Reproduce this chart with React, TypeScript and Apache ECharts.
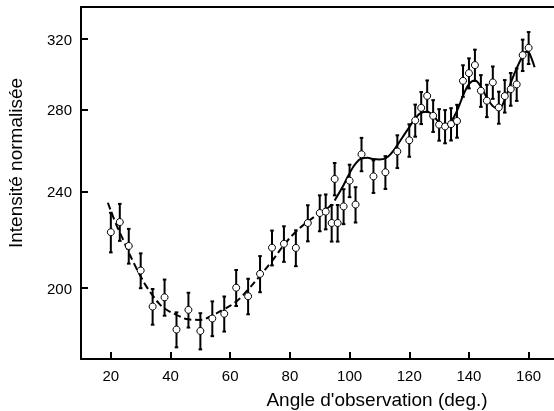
import React, { useEffect, useRef } from "react";
import * as echarts from "echarts";

// Observation angles (deg.)
const angles = [
  20, 23, 26, 30, 34, 38, 42, 46, 50, 54, 58, 62, 66, 70, 74, 78, 82, 86, 90,
  92, 94, 95, 96, 98, 100, 102, 104, 108, 112, 116, 120, 122, 124, 126, 128,
  130, 132, 134, 136, 138, 140, 142, 144, 146, 148, 150, 152, 154, 156, 158, 160,
];
// Normalised intensity
const intensities = [
  222.3, 226.6, 216.6, 206.8, 193.2, 196.6, 185.0, 192.0, 184.5, 188.9, 190.6,
  200.2, 197.0, 205.5, 215.9, 217.5, 215.8, 226.2, 230.5, 231.1, 226.2, 245.8,
  226.2, 233.4, 245.0, 234.2, 257.5, 247.0, 248.9, 258.9, 264.4, 274.5, 281.1,
  287.5, 276.9, 272.3, 271.4, 272.6, 274.2, 295.8, 300.1, 304.7, 290.3, 284.9,
  294.9, 281.3, 287.4, 291.2, 293.8, 310.5, 314.8,
];
// Error (half-length of bars)
const errors = [
  8.3, 7.9, 7.1, 6.8, 6.5, 6.7, 6.1, 6.3, 6.3, 6.2, 6.3, 6.8, 6.6, 7.0, 7.1,
  7.3, 7.3, 7.7, 7.8, 7.6, 7.8, 7.5, 7.8, 7.7, 7.5, 7.8, 8.1, 7.6, 7.7, 8.0,
  8.1, 8.3, 8.5, 8.5, 8.3, 8.1, 8.5, 8.3, 8.5, 8.8, 8.5, 9.0, 8.7, 8.7, 9.0,
  8.5, 8.8, 9.0, 9.0, 9.2, 9.5,
];
// Dashed fit curve
const dashX = [
  19, 20, 22, 24, 26, 28, 30, 32, 34, 36, 38, 42, 46, 50, 54, 58, 62, 66, 70,
  74, 78, 82, 86, 90, 93, 95,
];
const dashY = [
  235, 231.5, 225, 219.5, 214, 209, 204.5, 200.5, 197.3, 194.5, 192.5, 190.2,
  188.6, 188.4, 190, 192.3, 195, 199.5, 204.8, 210.5, 217, 222.5, 226.8, 230.4,
  233, 235.5,
];
// Solid fit curve
const solidX = [
  95, 98, 100, 102, 104, 106, 108, 110, 112, 114, 116, 118, 120, 122, 124, 126,
  128, 130, 132, 134, 136, 138, 140, 142, 144, 146, 148, 150, 152, 154, 156,
  158, 159, 160, 161, 162,
];
const solidY = [
  236, 243, 248.5, 253, 255.5, 255.8, 255.2, 255, 255.5, 258, 262, 266.5, 271,
  275.5, 278.5, 279, 277, 273.5, 272, 274, 279.5, 287.5, 294, 296, 292.5, 286.5,
  282, 280.5, 285.5, 294.5, 303, 310, 312.4, 312, 308.5, 303.5,
];
const xTicks = [20, 40, 60, 80, 100, 120, 140, 160];
const yTicks = [200, 240, 280, 320];

const lg = (v: number) => Math.log10(v);

export default function App() {
  const ref = useRef<HTMLDivElement>(null);
  useEffect(() => {
    document.body.style.margin = "0";
    const chart = echarts.init(ref.current!, null, { renderer: "svg" });
    const font = '"Liberation Sans", Arial, Helvetica, sans-serif';
    const axisLineStyle = { color: "#000", width: 2 };
    chart.setOption({
      animation: false,
      grid: { left: 81, right: 0, top: 7, bottom: 52 },
      xAxis: [
        {
          type: "value",
          min: 10,
          max: 168.5,
          position: "bottom",
          axisLine: { show: true, onZero: false, lineStyle: axisLineStyle },
          axisTick: {
            show: true,
            inside: true,
            length: 7,
            customValues: xTicks,
            lineStyle: { color: "#000", width: 2 },
          },
          axisLabel: {
            customValues: xTicks,
            color: "#000",
            fontSize: 15,
            fontFamily: font,
            margin: 9,
          },
          splitLine: { show: false },
        },
        {
          type: "value",
          min: 10,
          max: 168.5,
          position: "top",
          axisLine: { show: true, onZero: false, lineStyle: axisLineStyle },
          axisTick: { show: false },
          axisLabel: { show: false },
          splitLine: { show: false },
        },
      ],
      yAxis: {
        type: "value",
        min: lg(175),
        max: lg(340),
        axisLine: { show: true, onZero: false, lineStyle: axisLineStyle },
        axisTick: {
          show: true,
          inside: true,
          length: 7,
          customValues: yTicks.map(lg),
          lineStyle: { color: "#000", width: 2 },
        },
        axisLabel: {
          customValues: yTicks.map(lg),
          color: "#000",
          fontSize: 15,
          fontFamily: font,
          margin: 9,
          formatter: (v: number) => String(Math.round(Math.pow(10, v))),
        },
        splitLine: { show: false },
      },
      graphic: [
        {
          type: "text",
          x: 15,
          y: 163,
          rotation: Math.PI / 2,
          style: {
            text: "Intensité normalisée",
            fontSize: 19,
            fontFamily: font,
            fill: "#000",
            textAlign: "center",
            textVerticalAlign: "middle",
          },
        },
        {
          type: "text",
          x: 377,
          y: 399,
          style: {
            text: "Angle d'observation (deg.)",
            fontSize: 19,
            fontFamily: font,
            fill: "#000",
            textAlign: "center",
            textVerticalAlign: "middle",
          },
        },
      ],
      series: [
        {
          type: "custom",
          xAxisIndex: 0,
          data: angles.map((a, i) => [
            a,
            lg(intensities[i] - errors[i]),
            lg(intensities[i] + errors[i]),
          ]),
          encode: { x: 0, y: [1, 2] },
          z: 2,
          renderItem: (params: any, api: any) => {
            const x = api.value(0);
            const p1 = api.coord([x, api.value(1)]);
            const p2 = api.coord([x, api.value(2)]);
            const style = { stroke: "#000", lineWidth: 2 };
            return {
              type: "group",
              children: [
                { type: "line", shape: { x1: p1[0], y1: p1[1], x2: p2[0], y2: p2[1] }, style },
                { type: "line", shape: { x1: p1[0] - 1.8, y1: p1[1], x2: p1[0] + 1.8, y2: p1[1] }, style },
                { type: "line", shape: { x1: p2[0] - 1.8, y1: p2[1], x2: p2[0] + 1.8, y2: p2[1] }, style },
              ],
            };
          },
        },
        {
          type: "line",
          xAxisIndex: 0,
          data: dashX.map((x, i) => [x, lg(dashY[i])]),
          showSymbol: false,
          smooth: 0.4,
          z: 3,
          lineStyle: { color: "#000", width: 2, type: [7, 4] },
        },
        {
          type: "line",
          xAxisIndex: 0,
          data: solidX.map((x, i) => [x, lg(solidY[i])]),
          showSymbol: false,
          smooth: 0.4,
          z: 3,
          lineStyle: { color: "#000", width: 2 },
        },
        {
          type: "scatter",
          xAxisIndex: 0,
          data: angles.map((a, i) => [a, lg(intensities[i])]),
          symbol: "circle",
          symbolSize: 7,
          z: 5,
          itemStyle: { color: "#fff", borderColor: "#000", borderWidth: 1, opacity: 1 },
        },
      ],
    });
    return () => chart.dispose();
  }, []);
  return (
    <div
      ref={ref}
      style={{ position: "fixed", left: 0, top: 0, width: 554, height: 411 }}
    />
  );
}
